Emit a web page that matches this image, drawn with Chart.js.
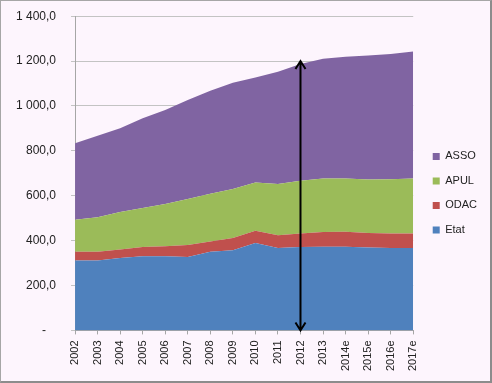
<!DOCTYPE html>
<html>
<head>
<meta charset="utf-8">
<script src="https://cdn.jsdelivr.net/npm/chart.js@4/dist/chart.umd.min.js"></script>
<style>
  html, body { margin: 0; padding: 0; background: #fdf5fd; }
  #wrap {
    width: 492px; height: 383px; box-sizing: border-box;
    border-top: 1px solid #a6a6a6; border-left: 1px solid #a6a6a6;
    border-right: 2px solid #8c8c8c; border-bottom: 2px solid #8c8c8c;
    background: #fdf5fd;
  }
  canvas { display: block; }
</style>
</head>
<body>
<div id="wrap"><canvas id="myChart" width="489" height="380"></canvas></div>
<script>
const years = ['2002', '2003', '2004', '2005', '2006', '2007', '2008', '2009',
               '2010', '2011', '2012', '2013', '2014e', '2015e', '2016e', '2017e'];

const etat = [311, 311, 323, 330, 330, 327, 350, 357, 390, 367, 372, 373, 373, 369, 367, 367];
const odac = [39, 40, 38, 42, 45, 54, 46, 55, 54, 57, 60, 66, 67, 65, 65, 65];
const apul = [143, 153, 167, 173, 188, 204, 213, 218, 215, 228, 235, 238, 237, 238, 242, 245];
const asso = [341, 363, 373, 400, 419, 442, 459, 474, 468, 501, 520, 533, 542, 553, 558, 566];

// the double arrow drawn at 2012, from 0 up to 1 200
const arrowYear = '2012';
const arrowFrom = 0;
const arrowTo = 1200;

function frNumber(v) {
    if (v === 0) return '-   ';
    const s = v.toFixed(1).replace('.', ',');
    const parts = s.split(',');
    const int = parts[0].replace(/\B(?=(\d{3})+(?!\d))/g, ' ');
    return int + ',' + parts[1];
}

const arrowPlugin = {
    id: 'arrow',
    afterDatasetsDraw(chart) {
        const ctx = chart.ctx;
        const x = chart.scales.x.getPixelForValue(years.indexOf(arrowYear));
        const y0 = chart.scales.y.getPixelForValue(arrowFrom);
        const y1 = chart.scales.y.getPixelForValue(arrowTo);
        ctx.save();
        ctx.strokeStyle = '#000';
        ctx.lineWidth = 2;
        ctx.beginPath();
        ctx.moveTo(x, y0);
        ctx.lineTo(x, y1);
        ctx.moveTo(x - 5, y1 + 8);
        ctx.lineTo(x, y1);
        ctx.lineTo(x + 5, y1 + 8);
        ctx.moveTo(x - 5, y0 - 8);
        ctx.lineTo(x, y0);
        ctx.lineTo(x + 5, y0 - 8);
        ctx.stroke();
        ctx.restore();
    }
};

Chart.defaults.font.family = '"Liberation Sans", Arial, sans-serif';
Chart.defaults.font.size = 11;
Chart.defaults.color = '#222';

function area(label, data, color, fill) {
    return {
        label: label,
        data: data,
        backgroundColor: color,
        borderColor: color,
        borderWidth: 0,
        pointRadius: 0,
        tension: 0,
        fill: fill
    };
}

const ctx = document.getElementById('myChart').getContext('2d');
new Chart(ctx, {
    type: 'line',
    data: {
        labels: years,
        datasets: [
            area('Etat', etat, '#4f81bd', 'origin'),
            area('ODAC', odac, '#c0504d', '-1'),
            area('APUL', apul, '#9bbb59', '-1'),
            area('ASSO', asso, '#8064a2', '-1')
        ]
    },
    options: {
        responsive: false,
        animation: false,
        layout: { padding: { left: 0, top: 0, right: 3, bottom: 4 } },
        plugins: {
            tooltip: { enabled: false },
            legend: {
                position: 'right',
                reverse: true,
                title: { display: true, text: ' ', padding: 0, font: { size: 7 } },
                labels: {
                    boxWidth: 7,
                    boxHeight: 7,
                    padding: 13.5,
                    color: '#222'
                }
            }
        },
        scales: {
            x: {
                grid: { display: true, drawOnChartArea: false, tickLength: 4, color: '#a6a6a6' },
                border: { color: '#a6a6a6' },
                ticks: { minRotation: 90, maxRotation: 90, padding: 6, autoSkip: false, font: { size: 11 } }
            },
            y: {
                stacked: true,
                min: 0,
                max: 1400,
                grid: { color: '#c3c3c3', tickLength: 4 },
                border: { color: '#a6a6a6' },
                ticks: { stepSize: 200, padding: 15, font: { size: 12 }, callback: v => frNumber(v) },
                afterFit(scale) { scale.paddingTop = Math.max(scale.paddingTop - 7, 0); }
            },
            gap: {
                type: 'linear',
                position: 'right',
                display: true,
                grid: { display: false },
                border: { display: false },
                ticks: { display: false },
                afterFit(scale) { scale.width = 6; }
            }
        }
    },
    plugins: [arrowPlugin]
});
</script>
</body>
</html>
